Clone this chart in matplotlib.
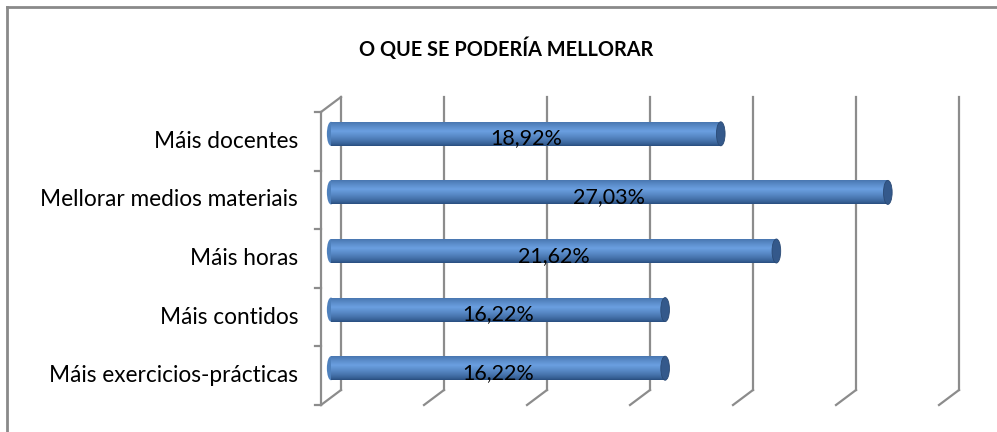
import matplotlib.pyplot as plt
import matplotlib.transforms as mtransforms
from matplotlib.patches import Ellipse, Rectangle
from matplotlib.colors import to_rgb
import numpy as np

plt.rcParams['font.family'] = ['Lato', 'DejaVu Sans']

# data (top to bottom as shown)
categories = ["Máis docentes", "Mellorar medios materiais", "Máis horas",
              "Máis contidos", "Máis exercicios-prácticas"]
values = [18.92, 27.03, 21.62, 16.22, 16.22]
labels = ["18,92%", "27,03%", "21,62%", "16,22%", "16,22%"]
title = "O QUE SE PODERÍA MELLORAR"
xticks = [0, 5, 10, 15, 20, 25, 30]

W, H = 997, 432
fig = plt.figure(figsize=(W / 100, H / 100), dpi=100)

# front plane of the 3D box
ax = fig.add_axes([321 / W, (H - 405) / H, 618 / W, 293 / H])
ax.set_xlim(0, 30)
ax.set_ylim(-0.5, len(categories) - 0.5)
ax.axis('off')

# depth offsets (pixels) for back wall and bar middle
back = mtransforms.offset_copy(ax.transData, fig, x=20, y=15, units='dots')
mid = mtransforms.offset_copy(ax.transData, fig, x=10, y=7.5, units='dots')
grid_c = '#8c8c8c'
y0, y1 = -0.5, len(categories) - 0.5

# back wall gridlines and floor diagonals
for xv in xticks:
    ax.plot([xv, xv], [y0, y1], color=grid_c, lw=1.6, transform=back, clip_on=False)
    ax.plot([xv, xv + 20 / 20.6], [y0, y0 + 15 / 58.6], color=grid_c, lw=1.6,
            transform=ax.transData, clip_on=False)
# left wall
ax.plot([0, 0], [y0, y1], color=grid_c, lw=1.6, clip_on=False)
ax.plot([0, 20 / 20.6], [y1, y1 + 15 / 58.6], color=grid_c, lw=1.6, clip_on=False)
for k in range(len(categories) + 1):
    yk = y0 + k
    ax.plot([-6 / 20.6, 0], [yk, yk], color=grid_c, lw=1.6, clip_on=False)

# cylinder bars
light = np.array(to_rgb('#6a9fe0'))
dark = np.array(to_rgb('#24497a'))
bh = 0.41
nstrip = 24
for i, (v, lab) in enumerate(zip(values, labels)):
    yc = len(categories) - 1 - i
    # left rounded end
    ax.add_patch(Ellipse((0, yc), 0.4, bh, facecolor='#4f81bd', edgecolor='none',
                         transform=mid, zorder=3, clip_on=False))
    for s in range(nstrip):
        t = (s + 0.5) / nstrip  # 0 bottom .. 1 top
        f = np.clip(1 - abs(t - 0.62) / 0.62, 0, 1) ** 0.7
        col = dark + (light - dark) * f
        ax.add_patch(Rectangle((0, yc - bh / 2 + s * bh / nstrip), v, bh / nstrip * 1.05,
                               facecolor=col, edgecolor='none', transform=mid,
                               zorder=4, clip_on=False))
    ax.add_patch(Ellipse((v, yc), 0.42, bh, facecolor='#34598b', edgecolor='#2a4a75',
                         lw=0.6, transform=mid, zorder=5, clip_on=False))
    ax.text(v / 2, yc - 0.08, lab, ha='center', va='center', fontsize=15.5,
            color='black', transform=mid, zorder=6)
    ax.text(-23 / 20.6, len(categories) - 1 - i, categories[i], ha='right',
            va='center', fontsize=16.3, color='black')

fig.text(506 / W, 1 - 49 / H, title, ha='center', va='center', fontsize=14.3,
         fontweight='bold')

# outer chart frame (top and left visible)
fig.add_artist(plt.Line2D([6.5 / W, 1], [1 - 7 / H, 1 - 7 / H], color='#8a8a8a',
                          lw=2, transform=fig.transFigure))
fig.add_artist(plt.Line2D([6.5 / W, 6.5 / W], [0, 1 - 7 / H], color='#8a8a8a',
                          lw=2, transform=fig.transFigure))

fig.savefig('out.png', dpi=100)
